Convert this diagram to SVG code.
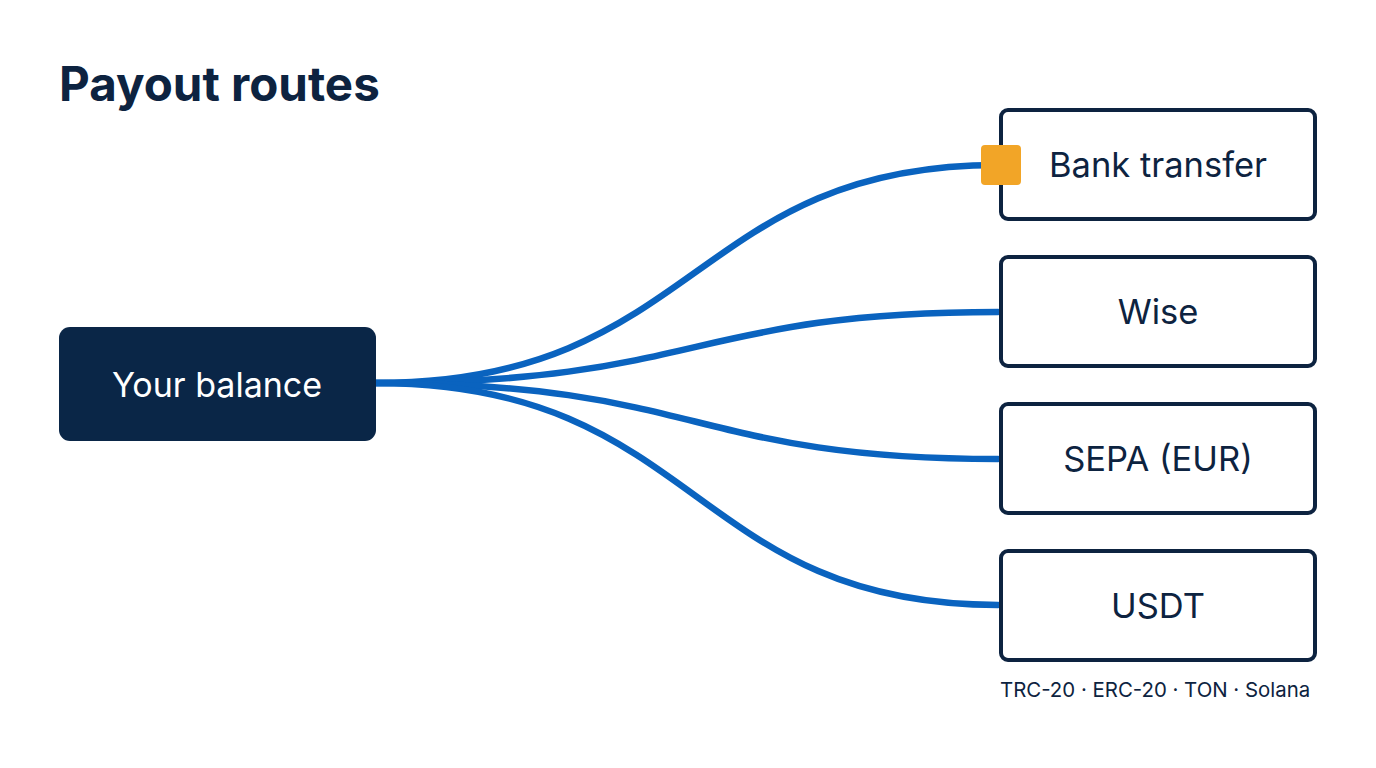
<svg xmlns="http://www.w3.org/2000/svg" width="1376" height="768" viewBox="0 0 1376 768">
<defs>
<style>
.title{font-family:Inter,"Noto Sans","Liberation Sans",sans-serif;font-weight:700;font-size:47.5px;fill:#0d2340}
.box{fill:#ffffff;stroke:#0d2340;stroke-width:4}
.lbl{font-family:Inter,"Noto Sans","Liberation Sans",sans-serif;font-size:34.5px;fill:#0d2340;text-anchor:middle}
.src{fill:#0a2647}
.srclbl{font-family:Inter,"Noto Sans","Liberation Sans",sans-serif;font-size:34px;fill:#ffffff;text-anchor:middle}
.wire{fill:none;stroke:#0a63bf;stroke-width:6.5;stroke-linecap:round}
.cap{font-family:Inter,"Noto Sans","Liberation Sans",sans-serif;font-size:20.4px;fill:#0d2340}
</style>
</defs>
<rect width="1376" height="768" fill="#ffffff"/>
<text class="title" x="59" y="101">Payout routes</text>
<g id="connectors">
<path class="wire" d="M376,383 C700,383 690,165 998,165"/>
<path class="wire" d="M376,383 C700,383 690,312 998,312"/>
<path class="wire" d="M376,383 C700,383 690,459 998,459"/>
<path class="wire" d="M376,383 C700,383 690,605 998,605"/>
</g>
<g id="balance">
<rect class="src" x="59" y="327" width="317" height="114" rx="11"/>
<text class="srclbl" x="217" y="397">Your balance</text>
</g>
<g id="bank">
<rect class="box" x="1001" y="110" width="314" height="109" rx="7"/>
<text class="lbl" x="1158" y="177">Bank transfer</text>
<rect x="981" y="145" width="40" height="40" rx="4" fill="#f2a527"/>
</g>
<g id="wise">
<rect class="box" x="1001" y="257" width="314" height="109" rx="7"/>
<text class="lbl" x="1158" y="324">Wise</text>
</g>
<g id="sepa">
<rect class="box" x="1001" y="404" width="314" height="109" rx="7"/>
<text class="lbl" x="1158" y="471">SEPA (EUR)</text>
</g>
<g id="usdt">
<rect class="box" x="1001" y="551" width="314" height="109" rx="7"/>
<text class="lbl" x="1158" y="618">USDT</text>
<text class="cap" x="1000" y="697">TRC-20 · ERC-20 · TON · Solana</text>
</g>
</svg>
